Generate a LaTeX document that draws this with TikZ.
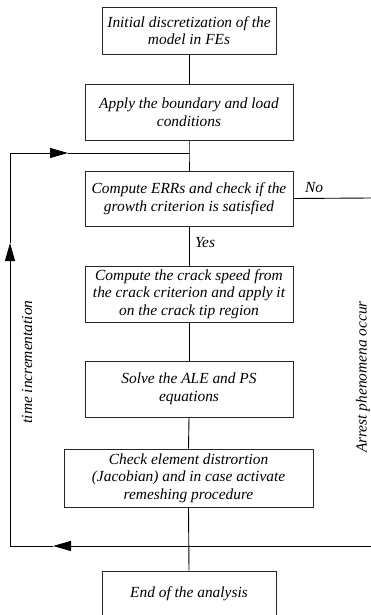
\documentclass[tikz,border=0pt]{standalone}
\usepackage{fontspec}
\setmainfont{Liberation Serif}
\usetikzlibrary{arrows.meta}
\tikzset{
  flowbox/.style={draw=black!85, line width=0.9pt, align=center, inner sep=0pt,
    font=\fontsize{15.4}{17.5}\selectfont\itshape},
  conn/.style={line width=0.9pt, black},
  tip/.style={conn, -{Triangle[length=18pt,width=10pt]}},
  lbl/.style={font=\fontsize{15.4}{17.5}\selectfont\itshape, inner sep=0pt}
}
\begin{document}
\begin{tikzpicture}[x=1pt,y=-1pt]
\useasboundingbox (0,0) rectangle (371,615);

% process steps
\node[flowbox, minimum width=174pt, minimum height=47pt] (init) at (189,30.5)
  {Initial discretization of the\\model in FEs};
\node[flowbox, minimum width=208pt, minimum height=56pt] (bc) at (189,112)
  {Apply the boundary and load\\conditions};
\node[flowbox, minimum width=208pt, minimum height=55pt] (err) at (189,198.5)
  {Compute ERRs and check if the\\growth criterion is satisfied};
\node[flowbox, minimum width=208pt, minimum height=56pt] (speed) at (189,294)
  {Compute the crack speed from\\the crack criterion and apply it\\on the crack tip region};
\node[flowbox, minimum width=208pt, minimum height=56pt] (solve) at (189,389)
  {Solve the ALE and PS\\equations};
\node[flowbox, minimum width=249pt, minimum height=58pt] (check) at (188.5,478)
  {Check element distrortion\\(Jacobian) and in case activate\\remeshing procedure};
\node[flowbox, minimum width=174pt, minimum height=46pt] (end) at (189,594)
  {End of the analysis};

% loop corners and arrow positions
\coordinate (join) at (189,153);
\coordinate (noEnd) at (371,198);
\coordinate (rEnd) at (371,546);
\coordinate (lb) at (10,546);
\coordinate (lt) at (10,153);
\coordinate (aLeft) at (53,546);
\coordinate (aUp) at (10,243);
\coordinate (aRight) at (68,153);

% main chain
\draw[conn] (init.south) -- (bc.north);
\draw[conn] (bc.south) -- (join) -- (err.north);
\draw[conn] (err.south) -- (speed.north);
\draw[conn] (speed.south) -- (solve.north);
\draw[conn] (solve.south) -- (check.north);
\draw[conn] (check.south) -- (end.north);

% branch to arrest
\draw[conn] (err.east) -- (noEnd);
\node[lbl, anchor=base west] (no) at (305,192.5) {No};
\node[lbl] (yes) at (205,243) {Yes};

% time loop
\draw[tip] (rEnd) -- (aLeft);
\draw[conn] (aLeft) -- (lb);
\draw[tip] (lb) -- (aUp);
\draw[conn] (aUp) -- (lt);
\draw[tip] (lt) -- (aRight);
\draw[conn] (aRight) -- (join);

\node[lbl, rotate=90] (time) at (27,362) {time incrementation};
\node[lbl, rotate=90] (arrest) at (363,377) {Arrest phenomena occur};
\end{tikzpicture}
\end{document}
